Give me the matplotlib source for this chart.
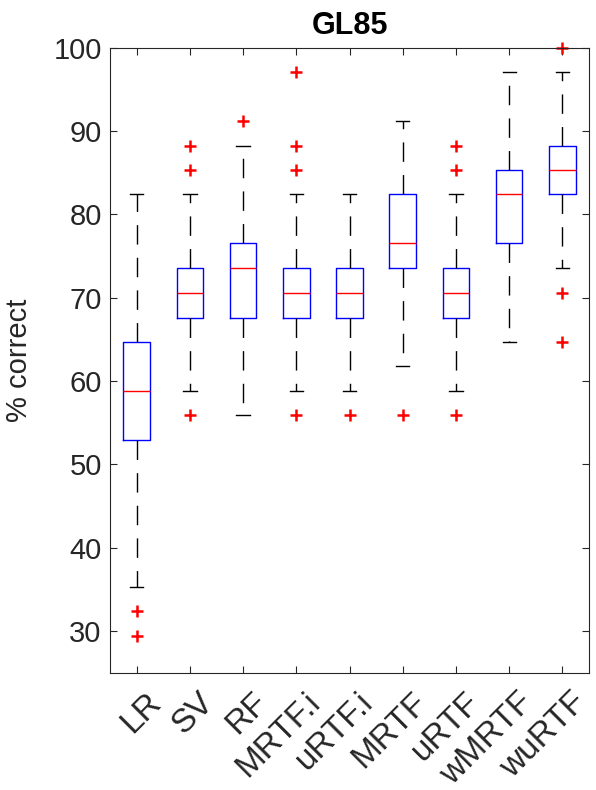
import matplotlib
matplotlib.use('Agg')
import matplotlib.pyplot as plt
import matplotlib.transforms as mtransforms

# accuracy (%) on 34-sample test set
labels = ['LR', 'SV', 'RF', 'MRTF.i', 'uRTF.i', 'MRTF', 'uRTF', 'wMRTF', 'wuRTF']
medians = [58.8, 70.6, 73.5, 70.6, 70.6, 76.5, 70.6, 82.4, 85.3]
q1s = [52.9, 67.6, 67.6, 67.6, 67.6, 73.5, 67.6, 76.5, 82.4]
q3s = [64.7, 73.5, 76.5, 73.5, 73.5, 82.4, 73.5, 85.3, 88.2]
whis_lo = [35.3, 58.8, 55.9, 58.8, 58.8, 61.8, 58.8, 64.7, 73.5]
whis_hi = [82.4, 82.4, 88.2, 82.4, 82.4, 91.2, 82.4, 97.1, 97.1]
outliers = [
    [32.4, 29.4],
    [88.2, 85.3, 55.9],
    [91.2],
    [97.1, 88.2, 85.3, 55.9],
    [55.9],
    [55.9],
    [88.2, 85.3, 55.9],
    [],
    [100.0, 70.6, 64.7],
]

plt.rcParams['font.family'] = ['Liberation Sans', 'DejaVu Sans']

stats = []
for i in range(len(labels)):
    stats.append({'med': medians[i], 'q1': q1s[i], 'q3': q3s[i],
                  'whislo': whis_lo[i], 'whishi': whis_hi[i],
                  'fliers': outliers[i], 'label': labels[i]})

fig = plt.figure(figsize=(5.96, 7.90), dpi=100)
ax = fig.add_axes([0.1846, 0.1487, 0.8037, 0.7909])

bp = ax.bxp(stats, widths=0.5, capwidths=0.25,
            boxprops=dict(color='#0000ff', linewidth=1.0),
            medianprops=dict(color='#ff0000', linewidth=1.0),
            whiskerprops=dict(color='black', linewidth=1.0, linestyle=(0, (14, 9.5))),
            capprops=dict(color='black', linewidth=1.0),
            flierprops=dict(marker='+', markeredgecolor='#ff0000', markersize=8,
                            markeredgewidth=1.8, linestyle='none'))
for fl in bp['fliers']:
    fl.set_clip_on(False)

ax.set_xlim(0.5, 9.5)
ax.set_ylim(25, 100)
ax.set_yticks([30, 40, 50, 60, 70, 80, 90, 100])
ax.set_xticks(range(1, len(labels) + 1))
ax.set_xticklabels(labels, rotation=45, ha='right', va='top', rotation_mode='anchor',
                   fontsize=24)
ax.tick_params(direction='in', length=5, width=0.8, colors='#262626',
               top=True, right=True, pad=6)
ax.tick_params(axis='y', labelsize=21)
offset = mtransforms.ScaledTranslation(6 / 72, -4 / 72, fig.dpi_scale_trans)
for lab in ax.get_xticklabels():
    lab.set_transform(lab.get_transform() + offset)
for lab in ax.get_xticklabels() + ax.get_yticklabels():
    lab.set_color('#262626')
for s in ax.spines.values():
    s.set_color('#262626')
    s.set_linewidth(0.8)

ax.set_ylabel('% correct', fontsize=21, color='#262626')
ax.yaxis.set_label_coords(-0.16, 0.5)
ax.set_title('GL85', fontsize=22, fontweight='bold', pad=10)

fig.savefig('out.png', dpi=100)
